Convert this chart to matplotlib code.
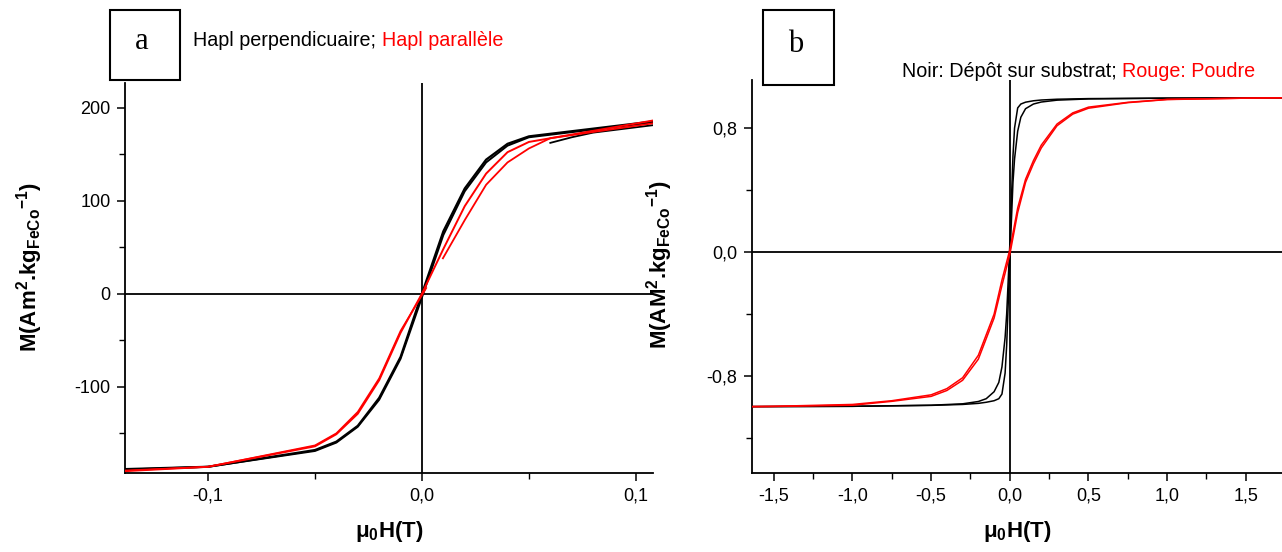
import matplotlib
matplotlib.use("Agg")
import matplotlib.pyplot as plt
from matplotlib import font_manager
from matplotlib.patches import Rectangle
from matplotlib.ticker import FixedLocator, FixedFormatter

names = {f.name for f in font_manager.fontManager.ttflist}
NARROW = "Liberation Sans Narrow" if "Liberation Sans Narrow" in names else "Liberation Sans"

plt.rcParams["font.family"] = [NARROW, "DejaVu Sans"]
plt.rcParams["mathtext.fontset"] = "custom"
plt.rcParams["mathtext.bf"] = "Liberation Sans:bold"
plt.rcParams["mathtext.rm"] = "Liberation Sans:bold"
plt.rcParams["mathtext.it"] = "Liberation Sans:bold"
plt.rcParams["mathtext.default"] = "bf"

# ---------------- Panel a data (mu0H in T, M in Am2/kg) ----------------
a_black_up_x = [-0.139, -0.1, -0.05, -0.04, -0.03, -0.02, -0.01, 0.0, 0.01, 0.02, 0.03, 0.04, 0.05, 0.108]
a_black_up_y = [-188.5, -186, -168, -159, -142, -112, -68, 0, 67, 113, 144, 161, 169, 185]
a_black_dn_x = [0.108, 0.05, 0.04, 0.03, 0.02, 0.01, 0.0, -0.01, -0.02, -0.03, -0.04, -0.05, -0.1, -0.139]
a_black_dn_y = [184, 168, 159, 141, 110, 63, -4, -70, -114, -143, -160, -169, -186, -189]
a_black_seg_x = [0.06, 0.07, 0.08, 0.108]
a_black_seg_y = [162, 168, 173, 181]
a_red_up_x = [-0.139, -0.1, -0.05, -0.04, -0.03, -0.02, -0.01, 0.0, 0.01, 0.02, 0.03, 0.04, 0.05, 0.108]
a_red_up_y = [-190.7, -186, -164, -151, -129, -93, -42, 0, 48, 94, 129, 152, 163, 186]
a_red_dn_x = [0.108, 0.06, 0.05, 0.04, 0.03, 0.02, 0.0098]
a_red_dn_y = [183, 167, 156, 141, 117, 79, 38]
a_red_neg_x = [0.002, -0.01, -0.02, -0.03, -0.04, -0.05, -0.1, -0.139]
a_red_neg_y = [6, -40, -91, -127, -150, -163, -186, -190]

a_xticks = [-0.1, 0.0, 0.1]
a_xticklabels = ["-0,1", "0,0", "0,1"]
a_xminor = [-0.05, 0.05]
a_yticks = [-100, 0, 100, 200]
a_yticklabels = ["-100", "0", "100", "200"]
a_yminor = [-150, -50, 50, 150]

# ---------------- Panel b data (normalised M) ----------------
b_black_up_x = [-1.64, -1.0, -0.5, -0.3, -0.2, -0.15, -0.1, -0.07, -0.05, -0.03, -0.02, 0.0, 0.02, 0.03, 0.05, 0.07, 0.1, 0.15, 0.2, 0.3, 0.5, 1.0, 1.73]
b_black_up_y = [-0.996, -0.994, -0.987, -0.978, -0.963, -0.945, -0.90, -0.84, -0.74, -0.55, -0.40, 0.05, 0.62, 0.80, 0.93, 0.955, 0.967, 0.976, 0.981, 0.986, 0.99, 0.993, 0.995]
b_black_dn_x = [1.73, 1.0, 0.5, 0.3, 0.2, 0.15, 0.1, 0.07, 0.05, 0.03, 0.02, 0.0, -0.02, -0.03, -0.05, -0.07, -0.1, -0.15, -0.2, -0.3, -0.5, -1.0, -1.64]
b_black_dn_y = [0.995, 0.993, 0.988, 0.980, 0.968, 0.955, 0.925, 0.87, 0.78, 0.60, 0.45, -0.05, -0.60, -0.78, -0.915, -0.945, -0.958, -0.968, -0.975, -0.982, -0.988, -0.994, -0.996]
b_red_up_x = [-1.64, -1.5, -1.0, -0.75, -0.5, -0.4, -0.3, -0.2, -0.1, -0.05, 0.0, 0.05, 0.1, 0.15, 0.2, 0.3, 0.4, 0.5, 0.75, 1.0, 1.5, 1.73]
b_red_up_y = [-0.996, -0.995, -0.987, -0.962, -0.93, -0.892, -0.826, -0.69, -0.425, -0.215, -0.015, 0.255, 0.45, 0.57, 0.672, 0.815, 0.89, 0.928, 0.964, 0.984, 0.993, 0.995]
b_red_dn_x = [1.73, 1.5, 1.0, 0.75, 0.5, 0.4, 0.3, 0.2, 0.15, 0.1, 0.05, 0.0, -0.05, -0.1, -0.2, -0.3, -0.4, -0.5, -0.75, -1.0, -1.5, -1.64]
b_red_dn_y = [0.995, 0.993, 0.985, 0.966, 0.935, 0.898, 0.826, 0.69, 0.59, 0.47, 0.285, 0.015, -0.18, -0.40, -0.665, -0.81, -0.88, -0.92, -0.958, -0.982, -0.994, -0.996]

b_xticks = [-1.5, -1.0, -0.5, 0.0, 0.5, 1.0, 1.5]
b_xticklabels = ["-1,5", "-1,0", "-0,5", "0,0", "0,5", "1,0", "1,5"]
b_xminor = [-1.25, -0.75, -0.25, 0.25, 0.75, 1.25]
b_yticks = [-0.8, 0.0, 0.8]
b_yticklabels = ["-0,8", "0,0", "0,8"]
b_yminor = [-1.2, -0.4, 0.4]

RED = "#ff0000"
W, H = 1282, 552
fig = plt.figure(figsize=(W / 100, H / 100), dpi=100)


def fx(px):
    return px / W


def fy(py):
    return 1 - py / H


def style_axes(ax, xt, xtl, xmin, yt, ytl, ymin):
    for s in ["top", "right"]:
        ax.spines[s].set_visible(False)
    for s in ["left", "bottom"]:
        ax.spines[s].set_linewidth(1.3)
    ax.xaxis.set_major_locator(FixedLocator(xt))
    ax.xaxis.set_major_formatter(FixedFormatter(xtl))
    ax.xaxis.set_minor_locator(FixedLocator(xmin))
    ax.yaxis.set_major_locator(FixedLocator(yt))
    ax.yaxis.set_major_formatter(FixedFormatter(ytl))
    ax.yaxis.set_minor_locator(FixedLocator(ymin))
    ax.tick_params(which="major", direction="out", length=5.5, width=1.1, labelsize=13, pad=5)
    ax.tick_params(which="minor", direction="out", length=4, width=1.0)
    ax.axhline(0, color="black", lw=1.3, zorder=1)
    ax.axvline(0, color="black", lw=1.3, zorder=1)


# ---------------- Panel a ----------------
axa = fig.add_axes([fx(125), fy(473.3), fx(653 - 125), fy(83.3) - fy(473.3)])
axa.set_xlim(-0.1388, 0.108)
axa.set_ylim(-193, 226)
style_axes(axa, a_xticks, a_xticklabels, a_xminor, a_yticks, a_yticklabels, a_yminor)
axa.plot(a_black_up_x, a_black_up_y, color="black", lw=1.6, zorder=3)
axa.plot(a_black_dn_x, a_black_dn_y, color="black", lw=1.4, zorder=3)
axa.plot(a_black_seg_x, a_black_seg_y, color="black", lw=1.3, zorder=3)
axa.plot(a_red_up_x, a_red_up_y, color=RED, lw=1.4, zorder=4)
axa.plot(a_red_dn_x, a_red_dn_y, color=RED, lw=1.3, zorder=4)
axa.plot(a_red_neg_x, a_red_neg_y, color=RED, lw=1.2, zorder=4)

# ---------------- Panel b ----------------
axb = fig.add_axes([fx(751.8), fy(473.3), fx(1282 - 751.8), fy(80) - fy(473.3)])
axb.set_xlim(-1.64, 1.73)
axb.set_ylim(-1.426, 1.11)
style_axes(axb, b_xticks, b_xticklabels, b_xminor, b_yticks, b_yticklabels, b_yminor)
axb.plot(b_black_up_x, b_black_up_y, color="black", lw=1.1, zorder=3)
axb.plot(b_black_dn_x, b_black_dn_y, color="black", lw=1.1, zorder=3)
axb.plot(b_red_up_x, b_red_up_y, color=RED, lw=1.1, zorder=4)
axb.plot(b_red_dn_x, b_red_dn_y, color=RED, lw=1.1, zorder=4)

# ---------------- labels ----------------
ylab_a = r"M(Am$^{2}$.kg$_{FeCo}$$^{-1}$)"
ylab_b = r"M(AM$^{2}$.kg$_{FeCo}$$^{-1}$)"
xlab = r"$\mathbf{\mu}_{0}$H(T)"
lab_kw = dict(fontsize=16, fontweight="bold", family=["Liberation Sans", "DejaVu Sans"])
fig.text(fx(30), fy(267), ylab_a, rotation=90, ha="center", va="center", **lab_kw)
fig.text(fx(660), fy(265), ylab_b, rotation=90, ha="center", va="center", **lab_kw)
fig.text(fx(389), fy(532), xlab, ha="center", va="center", **lab_kw)
fig.text(fx(1017), fy(532), xlab, ha="center", va="center", **lab_kw)

# boxes with letters
for (x0, y0, x1, y1, letter) in [(110, 9.5, 180, 80, "a"), (763, 9.5, 834, 85, "b")]:
    fig.patches.append(Rectangle((fx(x0), fy(y1)), fx(x1 - x0), fy(y0) - fy(y1),
                                 transform=fig.transFigure, fill=False, lw=1.5, ec="black"))
    fig.text(fx((x0 + x1) / 2 - 3), fy((y0 + y1) / 2 - 3), letter, ha="center", va="center",
             fontsize=22, family=["Liberation Serif", "DejaVu Serif"])

TXT = 14.2
t1 = fig.text(fx(193), fy(40), "Hapl perpendicuaire; ", ha="left", va="center", fontsize=TXT)
fig.canvas.draw()
bb = t1.get_window_extent()
fig.text(bb.x1 / W, fy(40), "Hapl parallèle", color=RED, ha="left", va="center", fontsize=TXT)

t2 = fig.text(fx(902), fy(71.5), "Noir: Dépôt sur substrat; ", ha="left", va="center", fontsize=TXT)
fig.canvas.draw()
bb2 = t2.get_window_extent()
fig.text(bb2.x1 / W, fy(71.5), "Rouge: Poudre", color=RED, ha="left", va="center", fontsize=TXT)

fig.savefig("out.png", dpi=100)
